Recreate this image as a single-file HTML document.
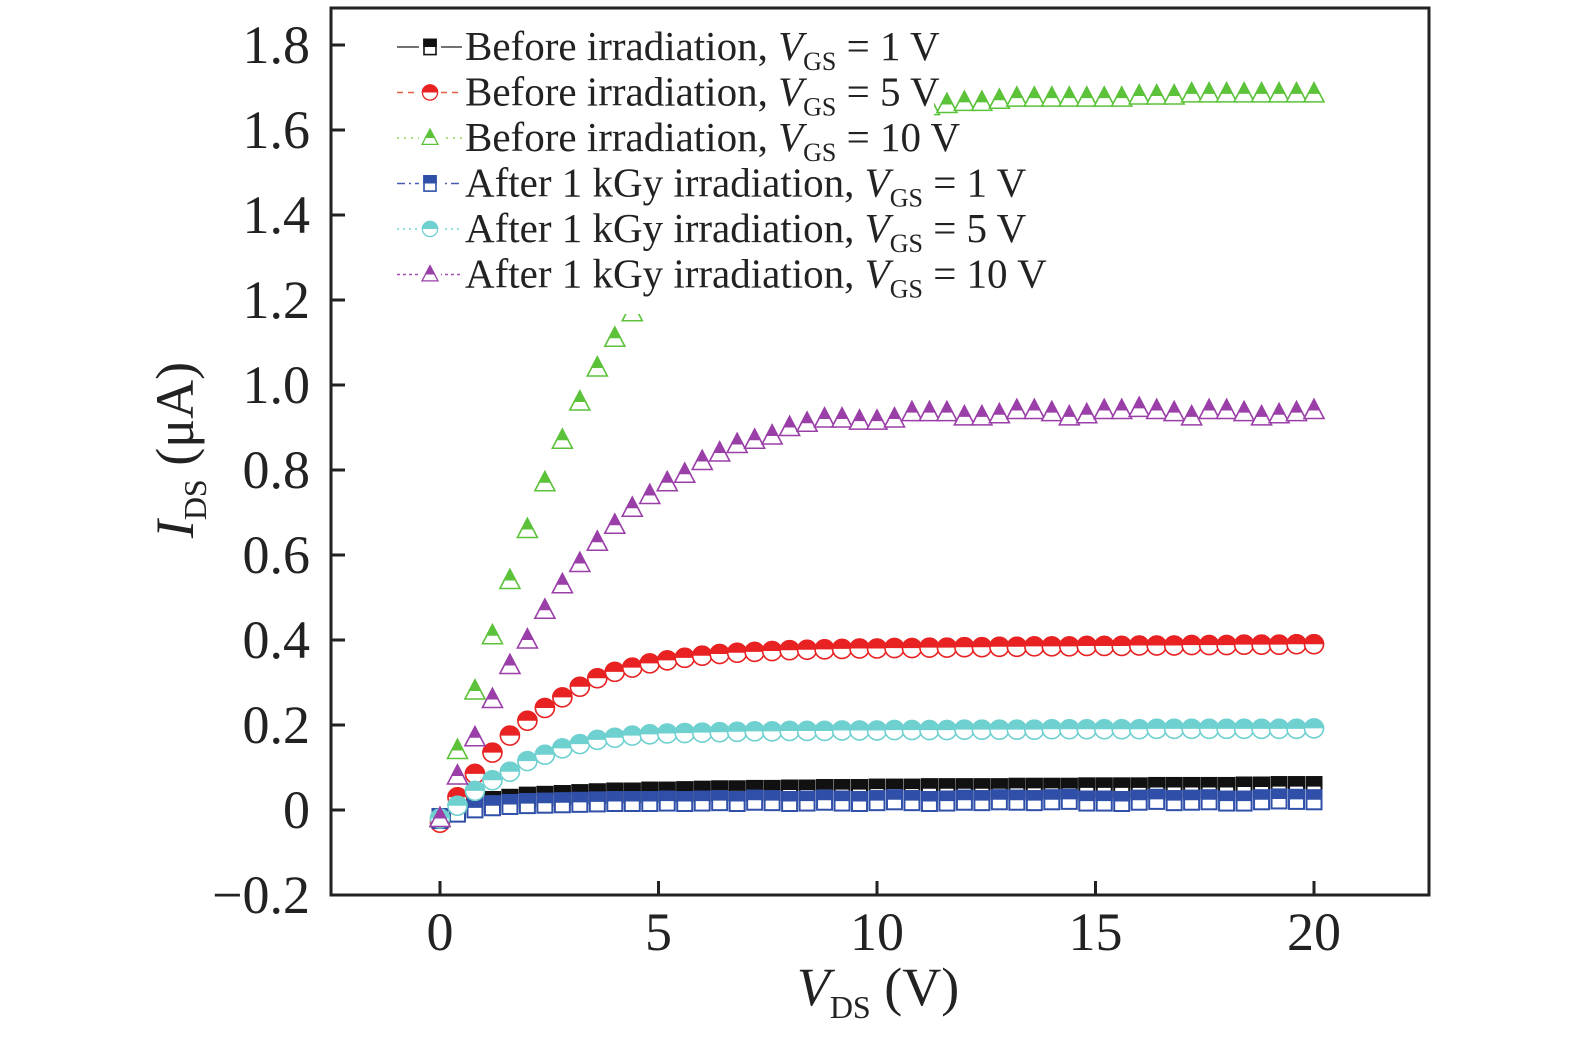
<!DOCTYPE html>
<html><head><meta charset="utf-8"><style>
html,body{margin:0;padding:0;background:#fff;}
svg{display:block;font-family:"Liberation Serif",serif;}
</style></head><body>
<svg id="chart" width="1575" height="1039" viewBox="0 0 1575 1039" xmlns="http://www.w3.org/2000/svg">
<defs><clipPath id="tophalf" clipPathUnits="userSpaceOnUse"><rect x="-20" y="-20" width="40" height="20"/></clipPath></defs>
<g id="marks"></g>
<rect x="331" y="8" width="1098" height="887" fill="none" stroke="#222" stroke-width="3"/>
<g id="axes"></g>
<g id="legend"></g>
<text x="878" y="1005" font-size="54" text-anchor="middle" fill="#222"><tspan font-style="italic">V</tspan><tspan font-size="32" dy="13">DS</tspan><tspan dy="-13"> (V)</tspan></text>
<text transform="translate(193,450) rotate(-90)" font-size="54" text-anchor="middle" fill="#222"><tspan font-style="italic">I</tspan><tspan font-size="32" dy="13">DS</tspan><tspan dy="-13"> (μA)</tspan></text>
</svg>
<script>
const xTicks=[0,5,10,15,20];
const yTicks=[-0.2,0,0.2,0.4,0.6,0.8,1.0,1.2,1.4,1.6,1.8];
const yTickLabels=["\u22120.2","0","0.2","0.4","0.6","0.8","1.0","1.2","1.4","1.6","1.8"];
const vds=[0,0.4,0.8,1.2,1.6,2,2.4,2.8,3.2,3.6,4,4.4,4.8,5.2,5.6,6,6.4,6.8,7.2,7.6,8,8.4,8.8,9.2,9.6,10,10.4,10.8,11.2,11.6,12,12.4,12.8,13.2,13.6,14,14.4,14.8,15.2,15.6,16,16.4,16.8,17.2,17.6,18,18.4,18.8,19.2,19.6,20];
const before1=[-0.02,0.0,0.015,0.02,0.025,0.03,0.032,0.034,0.036,0.038,0.04,0.04,0.042,0.042,0.043,0.044,0.045,0.045,0.046,0.046,0.047,0.047,0.048,0.048,0.048,0.049,0.049,0.049,0.05,0.05,0.05,0.05,0.05,0.051,0.051,0.051,0.051,0.052,0.052,0.052,0.052,0.053,0.053,0.053,0.053,0.053,0.054,0.054,0.055,0.055,0.055];
const before5=[-0.03,0.03,0.085,0.135,0.175,0.21,0.24,0.265,0.29,0.31,0.325,0.335,0.345,0.352,0.358,0.363,0.367,0.37,0.372,0.374,0.376,0.377,0.378,0.379,0.38,0.38,0.381,0.381,0.382,0.382,0.383,0.383,0.384,0.384,0.385,0.385,0.385,0.386,0.386,0.386,0.387,0.387,0.387,0.388,0.388,0.388,0.389,0.389,0.389,0.39,0.39];
const before10=[-0.02,0.14,0.28,0.41,0.54,0.66,0.77,0.87,0.96,1.04,1.11,1.17,1.23,1.28,1.33,1.38,1.42,1.46,1.5,1.53,1.56,1.58,1.6,1.62,1.63,1.64,1.65,1.655,1.655,1.66,1.665,1.665,1.67,1.675,1.675,1.675,1.675,1.675,1.675,1.675,1.68,1.68,1.68,1.685,1.685,1.685,1.685,1.685,1.685,1.685,1.685];
const after1=[-0.02,-0.005,0.005,0.01,0.013,0.015,0.016,0.017,0.018,0.019,0.02,0.02,0.02,0.021,0.02,0.021,0.022,0.02,0.023,0.022,0.02,0.021,0.023,0.021,0.02,0.022,0.024,0.022,0.02,0.021,0.023,0.022,0.024,0.023,0.022,0.024,0.025,0.021,0.021,0.02,0.023,0.025,0.022,0.023,0.024,0.021,0.021,0.024,0.026,0.025,0.024];
const after5=[-0.02,0.01,0.045,0.07,0.09,0.115,0.13,0.145,0.155,0.165,0.17,0.175,0.178,0.18,0.181,0.182,0.183,0.184,0.185,0.185,0.186,0.186,0.186,0.187,0.187,0.187,0.188,0.188,0.188,0.188,0.189,0.189,0.189,0.189,0.189,0.19,0.19,0.19,0.19,0.19,0.19,0.191,0.191,0.191,0.191,0.191,0.191,0.191,0.191,0.191,0.192];
const after10=[-0.02,0.08,0.17,0.26,0.34,0.40,0.47,0.53,0.58,0.63,0.67,0.71,0.74,0.77,0.79,0.82,0.84,0.86,0.87,0.88,0.90,0.91,0.92,0.92,0.915,0.915,0.92,0.935,0.935,0.935,0.925,0.925,0.93,0.94,0.94,0.935,0.925,0.93,0.94,0.94,0.945,0.94,0.935,0.925,0.94,0.94,0.935,0.925,0.93,0.935,0.94];
const seriesNames=["Before irradiation, ","Before irradiation, ","Before irradiation, ","After 1 kGy irradiation, ","After 1 kGy irradiation, ","After 1 kGy irradiation, "];
const seriesVgs=["1","5","10","1","5","10"];
const NS="http://www.w3.org/2000/svg";
const X0=331,X1=1429,Y0=8,Y1=895;
function xs(v){return 440+(v-0)*(1314-440)/20;}
function ys(v){return 810-v*85/0.2;}
function el(t,a,p){const e=document.createElementNS(NS,t);for(const k in a)e.setAttribute(k,a[k]);p.appendChild(e);return e;}
const series=[
 {d:before1,c:"#111",lc:"#444",shape:"sq",dash:"",name:"before-1v"},
 {d:before5,c:"#e82222",lc:"#e86040",shape:"ci",dash:"6,5",name:"before-5v"},
 {d:before10,c:"#5cc23a",lc:"#9ad060",shape:"tr",dash:"2,5",name:"before-10v"},
 {d:after1,c:"#2f4fa8",lc:"#4a5ab0",shape:"sq",dash:"8,4,2,4",name:"after-1v"},
 {d:after5,c:"#6fd0d0",lc:"#6fd0d0",shape:"ci",dash:"2,4",name:"after-5v"},
 {d:after10,c:"#9a3fa8",lc:"#a050b0",shape:"tr",dash:"3,3",name:"after-10v"}];
function shapeEl(s,g,fill,stroke){
 if(s==="sq")return el("rect",{x:-7.5,y:-9.5,width:15,height:19,fill:fill,stroke:stroke,"stroke-width":2},g);
 if(s==="ci")return el("circle",{cx:0,cy:0,r:9.5,fill:fill,stroke:stroke,"stroke-width":1.6},g);
 return el("polygon",{points:"0,-11 10,8 -10,8",fill:fill,stroke:stroke,"stroke-width":1.6},g);}
function marker(s,x,y,c,parent){
 const g=el("g",{transform:`translate(${x},${y})`},parent);
 shapeEl(s,g,"#fff",c);
 const h=el("g",{"clip-path":"url(#tophalf)"},g);
 shapeEl(s,h,c,c);
 return g;}
const marks=document.getElementById("marks");
series.forEach(s=>{
 const sg=el("g",{},marks);
 
 
 s.d.forEach((v,i)=>{
  const m=marker(s.shape,xs(vds[i]),ys(v),s.c,sg);
  
  
 });
});
const ax=document.getElementById("axes");
xTicks.forEach(t=>{
 const x=xs(t);
 const l=el("line",{x1:x,x2:x,y1:Y1,y2:Y1-14,stroke:"#222","stroke-width":3},ax);
 
 
 const tx=el("text",{x:x,y:950,"font-size":54,"text-anchor":"middle",fill:"#222"},ax);
 tx.textContent=t;
 
 
});
yTicks.forEach((t,i)=>{
 const y=ys(t);
 const l=el("line",{x1:X0,x2:X0+14,y1:y,y2:y,stroke:"#222","stroke-width":3},ax);
 
 
 const tx=el("text",{x:310,y:y+18,"font-size":54,"text-anchor":"end",fill:"#222"},ax);
 tx.textContent=yTickLabels[i];
 
 
});
const lg=document.getElementById("legend");
el("rect",{x:386,y:26,width:548,height:288,fill:"#fff"},lg);
series.forEach((s,i)=>{
 const y=47+i*45.5;
 const e=el("g",{},lg);
 
 
 el("line",{x1:397,x2:462,y1:y,y2:y,stroke:s.lc,"stroke-width":1.5,"stroke-dasharray":s.dash},e);
 el("rect",{x:419,y:y-11,width:22,height:22,fill:"#fff"},e);
 const m=marker(s.shape,430,y,s.c,e);
 m.setAttribute("transform",`translate(430,${y}) scale(0.8)`);
 const t=el("text",{x:465,y:y+13,"font-size":41,fill:"#222"},e);
 t.innerHTML=seriesNames[i]+'<tspan font-style="italic">V</tspan><tspan font-size="26" dy="10">GS</tspan><tspan dy="-10"> = '+seriesVgs[i]+' V</tspan>';
});
</script>
</body></html>
